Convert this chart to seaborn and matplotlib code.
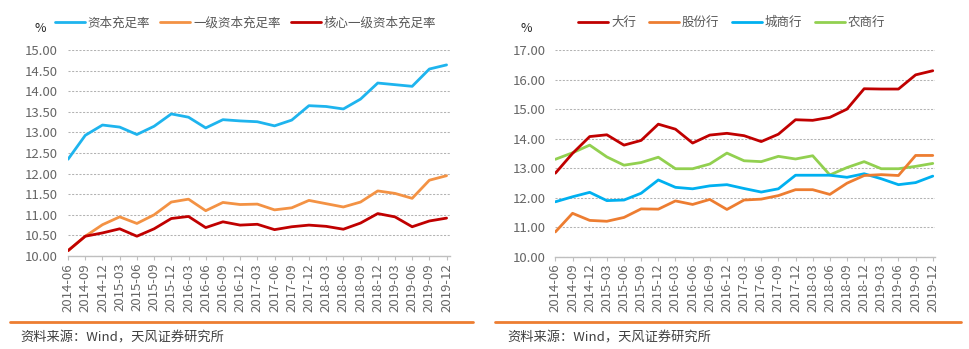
import numpy as np
import pandas as pd
import matplotlib
matplotlib.use("Agg")
import matplotlib.pyplot as plt
import seaborn as sns
from matplotlib.lines import Line2D

sns.set_theme(style="white")
plt.rcParams['font.family'] = ['Noto Sans CJK SC', 'DejaVu Sans']

quarters = ["2014-06", "2014-09", "2014-12", "2015-03", "2015-06", "2015-09", "2015-12",
            "2016-03", "2016-06", "2016-09", "2016-12", "2017-03", "2017-06", "2017-09",
            "2017-12", "2018-03", "2018-06", "2018-09", "2018-12", "2019-03", "2019-06",
            "2019-09", "2019-12"]

# Left panel
car = [12.35, 12.93, 13.18, 13.13, 12.95, 13.15, 13.45, 13.37, 13.11, 13.31, 13.28, 13.26,
       13.16, 13.30, 13.65, 13.63, 13.57, 13.81, 14.20, 14.16, 14.12, 14.54, 14.64]
tier1 = [10.13, 10.48, 10.76, 10.95, 10.79, 11.00, 11.31, 11.38, 11.10, 11.30, 11.25, 11.26,
         11.12, 11.17, 11.35, 11.27, 11.19, 11.31, 11.58, 11.52, 11.40, 11.84, 11.95]
core_tier1 = [10.13, 10.48, 10.56, 10.66, 10.48, 10.66, 10.91, 10.96, 10.69, 10.83, 10.75, 10.77,
              10.64, 10.71, 10.75, 10.72, 10.65, 10.80, 11.03, 10.95, 10.71, 10.85, 10.92]
left_names = ["资本充足率", "一级资本充足率", "核心一级资本充足率"]
left_colors = ["#1EB4EE", "#F39244", "#C00000"]

# Right panel
big = [12.83, 13.50, 14.07, 14.13, 13.78, 13.94, 14.49, 14.32, 13.85, 14.12, 14.18, 14.10,
       13.90, 14.15, 14.64, 14.62, 14.72, 15.00, 15.69, 15.68, 15.68, 16.16, 16.30]
joint = [10.84, 11.47, 11.23, 11.20, 11.33, 11.62, 11.61, 11.89, 11.77, 11.94, 11.60, 11.92,
         11.95, 12.07, 12.27, 12.27, 12.11, 12.49, 12.75, 12.78, 12.75, 13.43, 13.43]
city = [11.86, 12.03, 12.18, 11.90, 11.92, 12.15, 12.60, 12.35, 12.30, 12.40, 12.44, 12.31,
        12.19, 12.30, 12.76, 12.76, 12.76, 12.69, 12.81, 12.64, 12.44, 12.51, 12.73]
rural = [13.30, 13.52, 13.78, 13.38, 13.10, 13.19, 13.37, 12.98, 12.98, 13.14, 13.51, 13.25,
         13.22, 13.40, 13.31, 13.42, 12.77, 13.02, 13.22, 12.98, 12.98, 13.06, 13.16]
right_names = ["大行", "股份行", "城商行", "农商行"]
right_colors = ["#C00000", "#ED7D31", "#00B0F0", "#92D050"]

source_text = "资料来源：Wind，天风证券研究所"

idx = np.arange(len(quarters))
df_left = pd.DataFrame({"idx": np.tile(idx, 3),
                        "value": car + tier1 + core_tier1,
                        "series": np.repeat(left_names, len(quarters))})
df_right = pd.DataFrame({"idx": np.tile(idx, 4),
                         "value": big + joint + city + rural,
                         "series": np.repeat(right_names, len(quarters))})

fig = plt.figure(figsize=(9.69, 3.49), dpi=100)
axL = fig.add_axes([0.0699, 0.2665, 0.3945, 0.59])
axR = fig.add_axes([0.5728, 0.2645, 0.3921, 0.592])

tick_color = "#666666"
grid_color = "#B3B3B3"

def style(ax, ylim, step, xmax):
    ax.set_xlim(-0.02, xmax)
    ax.set_ylim(*ylim)
    ticks = np.arange(ylim[0], ylim[1] + 0.001, step)
    ax.set_yticks(ticks)
    ax.set_yticklabels([f"{v:.2f}" for v in ticks])
    ax.set_xticks(idx)
    ax.set_xticklabels(quarters, rotation=90)
    ax.yaxis.grid(True, color=grid_color, linestyle=(0, (2, 1.5)), linewidth=0.75)
    ax.xaxis.grid(False)
    for s in ["left", "right", "top"]:
        ax.spines[s].set_visible(False)
    ax.spines["bottom"].set_color("#BFBFBF")
    ax.spines["bottom"].set_linewidth(1.0)
    ax.tick_params(axis="x", colors=tick_color, labelsize=9.5, length=3, width=0.8,
                   direction="out", bottom=True, pad=2)
    ax.tick_params(axis="x", color="#BFBFBF")
    ax.tick_params(axis="y", colors=tick_color, labelsize=9.5, length=0, pad=7)
    ax.set_xlabel("")
    ax.set_ylabel("")
    ax.set_axisbelow(True)

sns.lineplot(data=df_left, x="idx", y="value", hue="series", hue_order=left_names,
             palette=left_colors, linewidth=2, ax=axL, legend=False)
sns.lineplot(data=df_right, x="idx", y="value", hue="series", hue_order=right_names[::-1],
             palette=right_colors[::-1], linewidth=2, ax=axR, legend=False)

style(axL, (10, 15), 0.5, 22.2)
style(axR, (10, 17), 1.0, 22.13)

# Legends
hl = [Line2D([0], [0], color=c, lw=2) for c in left_colors]
fig.legend(hl, left_names, loc="center left", bbox_to_anchor=(0.0448, 0.935), ncol=3,
           frameon=False, fontsize=9, handlelength=2.4, handletextpad=0.25,
           columnspacing=0.8, labelcolor="#595959")
hr = [Line2D([0], [0], color=c, lw=2) for c in right_colors]
fig.legend(hr, right_names, loc="center left", bbox_to_anchor=(0.5848, 0.935), ncol=4,
           frameon=False, fontsize=9, handlelength=2.4, handletextpad=0.25,
           columnspacing=1.0, labelcolor="#595959")

fig.text(40 / 969, 1 - 28 / 349, "%", ha="center", va="center", fontsize=9, color="#262626")
fig.text(526 / 969, 1 - 28 / 349, "%", ha="center", va="center", fontsize=9, color="#262626")

# Separator lines and source
fig.add_artist(Line2D([10 / 969, 473 / 969], [1 - 322 / 349] * 2, color="#ED7D31", lw=2))
fig.add_artist(Line2D([495 / 969, 961 / 969], [1 - 322 / 349] * 2, color="#ED7D31", lw=2))
fig.text(20 / 969, 1 - 338 / 349, source_text, ha="left", va="center", fontsize=9.5, color="#404040")
fig.text(507 / 969, 1 - 338 / 349, source_text, ha="left", va="center", fontsize=9.5, color="#404040")

fig.savefig("out.png", dpi=100)
